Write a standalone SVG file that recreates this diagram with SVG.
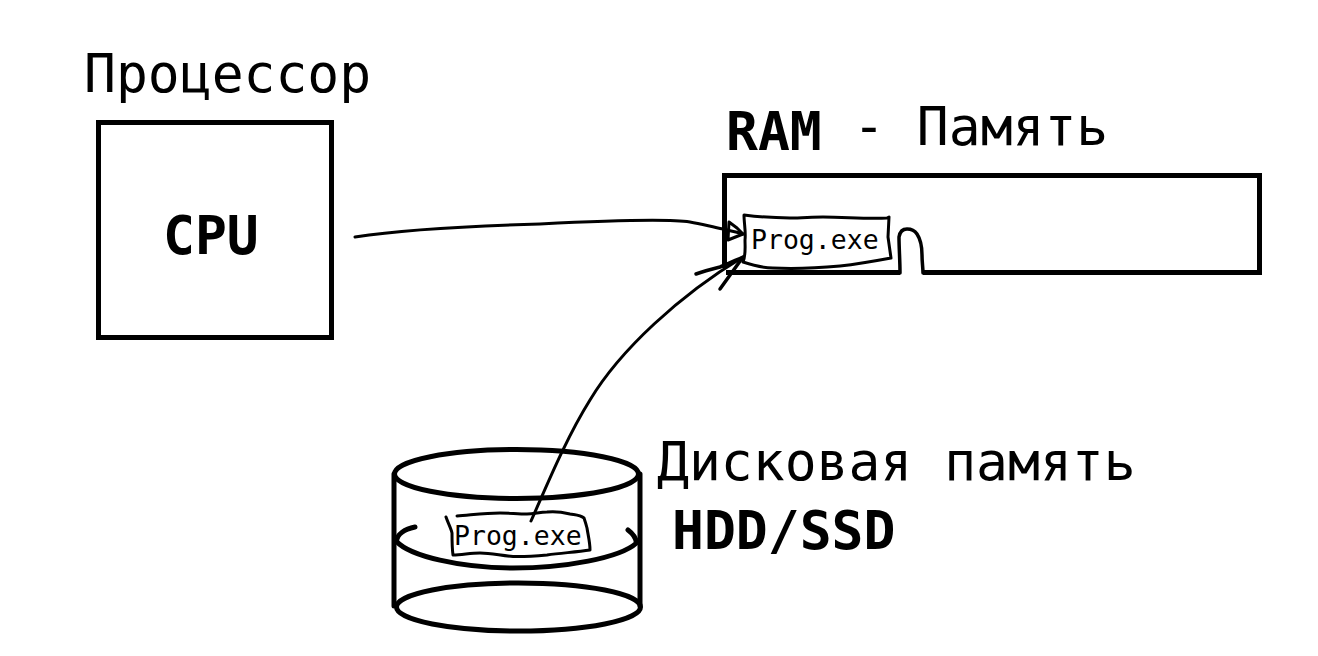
<svg xmlns="http://www.w3.org/2000/svg" width="1318" height="656" viewBox="0 0 1318 656">
<style>
text{font-family:"DejaVu Sans Mono","Liberation Mono",monospace;fill:#000}
.big{font-size:53px}
.bold{font-size:53px;font-weight:bold}
.small{font-size:26.500px}
.s{fill:none;stroke:#000;stroke-linecap:round;stroke-linejoin:round}
.box{fill:none;stroke:#000;stroke-width:5}
</style>
<rect width="1318" height="656" fill="#fff"/>
<g id="cpu">
<rect class="box" x="98.500" y="122.500" width="233" height="215"/>
<text class="bold" x="163" y="254">CPU</text>
<text class="big" x="84" y="92">Процессор</text>
</g>
<g id="ram">
<path class="box" d="M724.500 268V175.500H1259.500V272.500H923M900 272.500H726"/>
<path class="s" stroke-width="3.500" d="M900 273C900 260 899 248 899 237C900 231 903 229 907 229C912 229 915 231 917 234C921 240 922 248 922 255C922 262 923 268 923 273"/>
<text class="bold" x="726" y="150">RAM</text>
<text class="big" x="853" y="145">- Память</text>
</g>
<g id="ram-prog">
<path class="s" stroke-width="3" d="M744 215C760 217 775 218 790 218C802 218 812 217 823 217C845 217 866 219 887 218L889 217L888 237L891 258C875 261 858 264 840 266C818 268 795 269 773 268C762 268 752 265 743 262C746 255 745 247 745 240C746 232 744 223 744 215Z"/>
<text class="small" x="751" y="249">Prog.exe</text>
</g>
<g id="disk">
<g class="s" stroke-width="5">
<ellipse cx="516.500" cy="474" rx="122" ry="24.500"/>
<path d="M394 474V606M640 474V606"/>
<path d="M415 527C405 529 397 534 396.500 541.500C410 556 460 568 513 568C565 568 620 558 636.500 543C636 537 632 533 628 530"/>
<ellipse cx="518.500" cy="607" rx="122" ry="24"/>
</g>
<path class="s" stroke-width="3" d="M446 517C448 523 451 528 452 533C452 540 452 548 453 555C462 555 470 553 480 553C492 553 502 556 513 556.500C525 557 536 556 547 555C562 553 576 552 590 550C590 542 588 535 587 528C586 524 585 521 584 518C580 515 575 515 570 514C562 512 555 511 547 512C540 512 534 514 527 514C518 514 509 513 500 513C485 513 471 515 457 516"/>
<text class="small" x="454" y="545">Prog.exe</text>
<text class="big" x="657" y="480">Дисковая память</text>
<text class="bold" x="672" y="549">HDD/SSD</text>
</g>
<g id="connectors">
<path class="s" stroke-width="3" d="M355 237C400 230 470 226 540 224C600 221 670 219 690 222C702 224 712 227 723 229C730 231 737 232 743 234"/>
<path class="s" stroke-width="3" d="M743 234L728 240L729 222L737 228L743 234"/>
<path class="s" stroke-width="3" d="M531 521C545 490 565 440 590 400C620 350 680 295 743 257"/>
<path class="s" stroke-width="3.500" d="M696 274C704 271 712 269 720 267C728 264 736 260 743 257L720 289"/>
</g>
</svg>
